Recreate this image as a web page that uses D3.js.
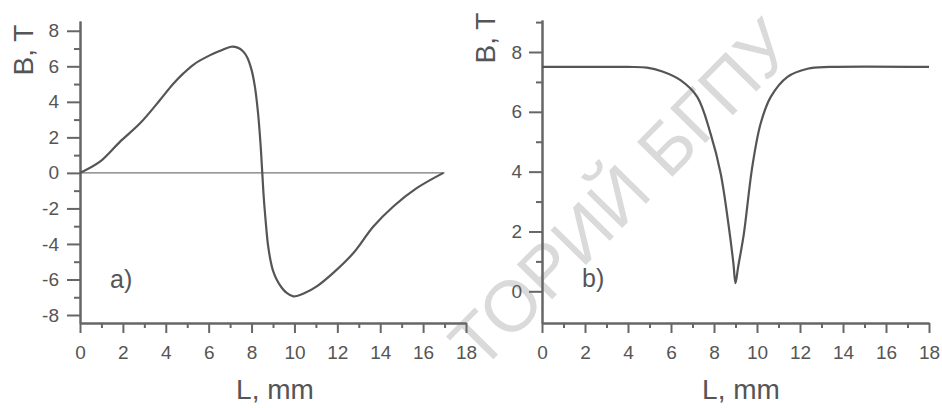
<!DOCTYPE html>
<html>
<head>
<meta charset="utf-8">
<script src="https://cdn.jsdelivr.net/npm/d3@7"></script>
<style>
  body { margin: 0; background: #fff; }
  svg { display: block; font-family: "Liberation Sans", Arial, sans-serif; }
  .axis path, .axis line { stroke: #666; stroke-width: 2; }
  .axis text { fill: #555; font-size: 19px; font-family: "Liberation Sans", Arial, sans-serif; }
  .title { fill: #555; }
</style>
</head>
<body>
<svg width="942" height="408"></svg>
<script>
// tick values shared by both panels
var xMajor = [0, 2, 4, 6, 8, 10, 12, 14, 16, 18];
var xMinor = [1, 3, 5, 7, 9, 11, 13, 15, 17];
var leftYMajor = [-8, -6, -4, -2, 0, 2, 4, 6, 8];
var leftYMinor = [-7, -5, -3, -1, 1, 3, 5, 7];
var rightYMajor = [0, 2, 4, 6, 8];
var rightYMinor = [1, 3, 5, 7, 9];

// panel a) : field along the gap
var aL = [0, 0.93, 1.87, 2.8, 3.73, 4.3, 4.82, 5.3, 5.91, 6.6, 7.05, 7.35, 7.6, 7.8, 8.0, 8.15, 8.3, 8.42, 8.5, 8.57, 8.65, 8.76, 8.88, 9.0, 9.17, 9.4, 9.64, 9.95, 10.5, 11.04, 11.81, 12.75, 13.68, 14.61, 15.7, 16.95];
var aB = [0, 0.63, 1.76, 2.79, 4.1, 4.95, 5.6, 6.1, 6.53, 6.9, 7.1, 7.05, 6.85, 6.5, 5.8, 4.9, 3.4, 1.6, 0, -1.4, -2.6, -4.0, -4.9, -5.5, -6.0, -6.45, -6.76, -6.95, -6.75, -6.39, -5.63, -4.51, -3.02, -1.89, -0.86, 0];
var aZeroL = [0, 17];

// panel b) : field magnitude
var bL = [0, 4, 4.88, 5.6, 6.44, 7.22, 7.84, 8.31, 8.69, 8.9, 9.0, 9.12, 9.39, 9.78, 10.17, 10.64, 11.42, 12.35, 13.4, 18];
var bB = [7.5, 7.5, 7.48, 7.35, 7.06, 6.5, 5.27, 3.94, 2.15, 0.95, 0.27, 0.8, 1.93, 4.16, 5.61, 6.5, 7.17, 7.44, 7.5, 7.5];

var svg = d3.select("svg");

// light diagonal stamp across the figure
svg.append("text")
    .attr("transform", "translate(797,50) rotate(-45.5)")
    .attr("text-anchor", "end")
    .attr("font-size", 72)
    .attr("fill", "#dadada")
    .text("ТОРИЙ БГПУ");

function fmt(d) { return String(d); }

function panel(opt) {
    var x = d3.scaleLinear().domain([0, 18]).range(opt.xr);
    var y = d3.scaleLinear().domain(opt.yd).range([323, opt.ytop]);
    var g = svg.append("g");

    // minor ticks first, major on top
    g.append("g").attr("class", "axis")
        .attr("transform", "translate(0,323)")
        .call(d3.axisBottom(x).tickValues(xMinor).tickSize(5).tickSizeOuter(0).tickFormat(""));
    g.append("g").attr("class", "axis")
        .attr("transform", "translate(0,323)")
        .call(d3.axisBottom(x).tickValues(xMajor).tickSize(10).tickPadding(13).tickSizeOuter(0).tickFormat(fmt));
    g.append("g").attr("class", "axis")
        .attr("transform", "translate(" + opt.xr[0] + ",0)")
        .call(d3.axisLeft(y).tickValues(opt.yMinor).tickSize(6).tickSizeOuter(0).tickFormat(""));
    g.append("g").attr("class", "axis")
        .attr("transform", "translate(" + opt.xr[0] + ",0)")
        .call(d3.axisLeft(y).tickValues(opt.yMajor).tickSize(13).tickPadding(opt.pad).tickSizeOuter(0).tickFormat(fmt));

    var line = d3.line()
        .x(function(d) { return x(d[0]); })
        .y(function(d) { return y(d[1]); })
        .curve(d3.curveCatmullRom.alpha(0.5));

    if (opt.zero) {
        g.append("path")
            .attr("d", line(opt.zero.map(function(v) { return [v, 0]; })))
            .attr("fill", "none").attr("stroke", "#777").attr("stroke-width", 1.3);
    }

    g.append("path")
        .attr("d", line(opt.L.map(function(v, i) { return [v, opt.B[i]]; })))
        .attr("fill", "none")
        .attr("stroke", "#555")
        .attr("stroke-width", 2.2)
        .attr("stroke-linejoin", "round");

    g.append("text").attr("class", "title")
        .attr("x", opt.xlab).attr("y", 399)
        .attr("text-anchor", "middle").attr("font-size", 28)
        .text("L, mm");
    g.append("text").attr("class", "title")
        .attr("transform", "translate(" + opt.ylab[0] + "," + opt.ylab[1] + ") rotate(-90)")
        .attr("text-anchor", "middle").attr("font-size", 28)
        .text("B, T");
    g.append("text").attr("class", "title")
        .attr("x", opt.tag[0]).attr("y", opt.tag[1])
        .attr("font-size", 25)
        .text(opt.tagText);
}

panel({xr: [80, 466], yd: [-8.45, 8.55], ytop: 21, yMajor: leftYMajor, yMinor: leftYMinor,
       pad: 8, L: aL, B: aB, zero: aZeroL, xlab: 275, ylab: [33, 50], tag: [110, 288], tagText: "a)"});
panel({xr: [542, 929], yd: [-1.06, 9.07], ytop: 20, yMajor: rightYMajor, yMinor: rightYMinor,
       pad: 7, L: bL, B: bB, zero: null, xlab: 741, ylab: [495, 38], tag: [582, 287], tagText: "b)"});
</script>
</body>
</html>
